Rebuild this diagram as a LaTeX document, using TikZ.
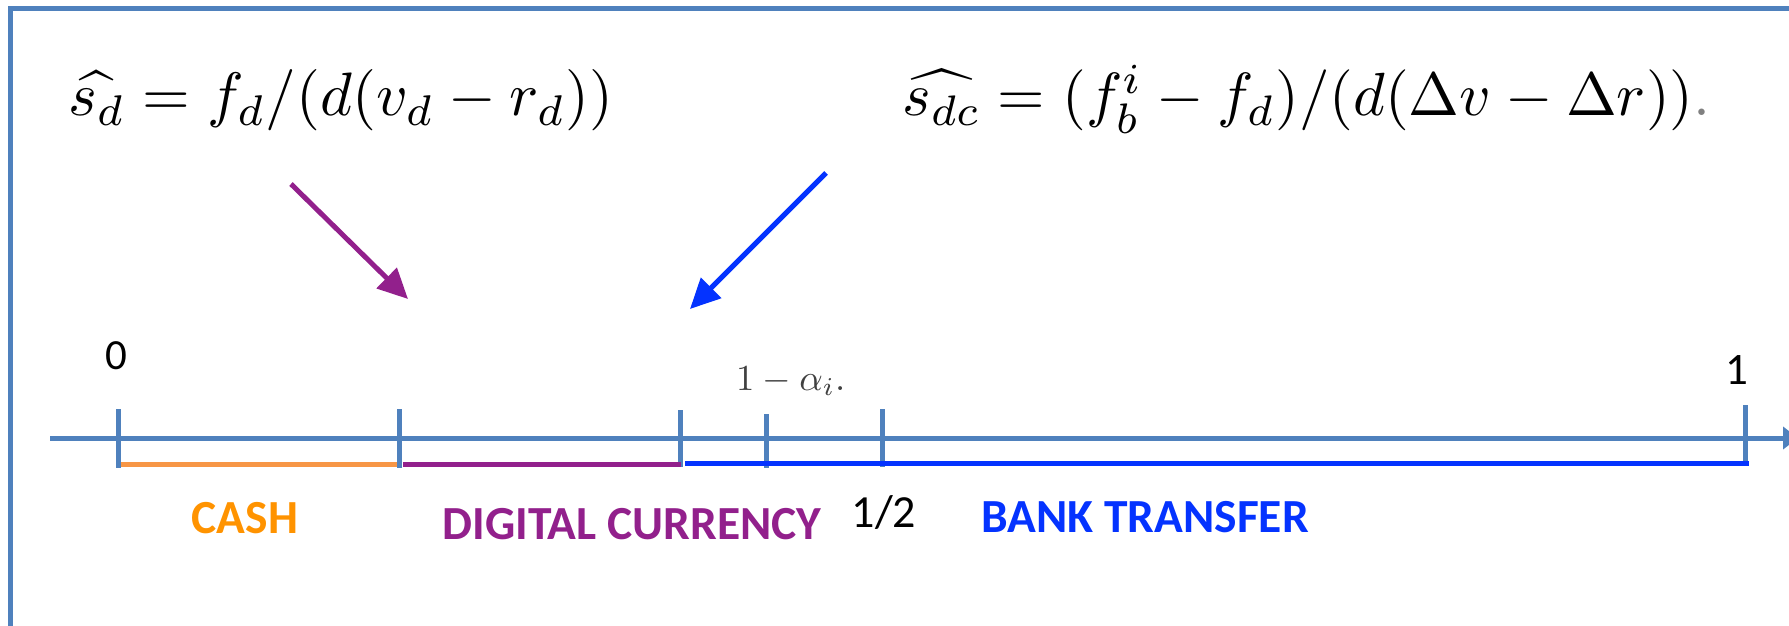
\documentclass[tikz,border=0pt]{standalone}
\usepackage{fontspec}
\newfontfamily\calibri{Carlito}
\usetikzlibrary{arrows.meta}
\definecolor{axisblue}{RGB}{79,129,189}
\definecolor{cashline}{RGB}{247,150,70}
\definecolor{cashtext}{RGB}{255,147,0}
\definecolor{dcpurple}{RGB}{146,32,140}
\definecolor{btblue}{RGB}{4,51,255}
\tikzset{
  frame/.style={draw=axisblue,line width=5pt},
  axisline/.style={draw=axisblue,line width=5pt,-{Triangle[length=15pt,width=22pt]}},
  tickmark/.style={draw=axisblue,line width=5pt},
  segline/.style={line width=5pt},
  pointer/.style={line width=5pt,-{Triangle[length=30pt,width=28pt]}},
  numlabel/.style={inner sep=0pt,anchor=base,font=\calibri\fontsize{43}{48}\selectfont},
  catlabel/.style={inner sep=0pt,anchor=base,font=\calibri\bfseries\fontsize{47.5}{52}\selectfont},
  formula/.style={inner sep=0pt,anchor=base west}
}
\begin{document}
\begin{tikzpicture}[x=1pt,y=-1pt]
\useasboundingbox (0,0) rectangle (1789,626);
\clip (0,0) rectangle (1789,626);
\fill[white] (0,0) rectangle (1789,626);
\draw[frame] (10,9) rectangle (1830,670);

% formulas
\node[formula] (f1) at (68,116) {\resizebox{545pt}{!}{$\widehat{s_d} = f_d/(d(v_d - r_d))$}};
\node[formula] (f2) at (902,116) {\resizebox{808pt}{!}{$\widehat{s_{dc}} = (f_b^i - f_d)/(d(\Delta v - \Delta r))\textcolor{black!50}{.}$}};

% pointer arrows
\coordinate (pa1) at (291,184);
\coordinate (pa2) at (408,299);
\coordinate (ba1) at (826,173);
\coordinate (ba2) at (690,309);
\draw[pointer,dcpurple] (pa1) -- (pa2);
\draw[pointer,btblue] (ba1) -- (ba2);

% axis
\coordinate (axL) at (50,438);
\coordinate (axR) at (1798,438);
\draw[axisline] (axL) -- (axR);

% ticks
\coordinate (t0a) at (118,409);  \coordinate (t0b) at (118,468);
\coordinate (t1a) at (399,409);  \coordinate (t1b) at (399,468);
\coordinate (t2a) at (680,410);  \coordinate (t2b) at (680,467);
\coordinate (t3a) at (766,414);  \coordinate (t3b) at (766,468);
\coordinate (t4a) at (882,409);  \coordinate (t4b) at (882,467);
\coordinate (t5a) at (1745,405); \coordinate (t5b) at (1745,461);
\foreach \t in {0,...,5} \draw[tickmark] (t\t a) -- (t\t b);

% segments
\coordinate (s0) at (121,464);
\coordinate (s1) at (397,464);
\coordinate (s2) at (403,464);
\coordinate (s3) at (681,464);
\coordinate (s4) at (685,463);
\coordinate (s5) at (1749,463);
\draw[segline,cashline] (s0) -- (s1);
\draw[segline,dcpurple] (s2) -- (s3);
\draw[segline,btblue] (s4) -- (s5);

% labels
\node[numlabel] (l0) at (116,369) {0};
\node[numlabel,font=\calibri\fontsize{45}{50}\selectfont] (l1) at (1737,384) {1};
\node[inner sep=0pt,anchor=base west,text=black!75] (lalpha) at (736,390) {\resizebox{109pt}{!}{$1 - \alpha_i.$}};
\node[numlabel,font=\calibri\fontsize{46}{50}\selectfont] (lhalf) at (884,527) {1/2};
\node[catlabel,text=cashtext] (cash) at (245,533) {CASH};
\node[catlabel,text=dcpurple] (dc) at (632,539) {DIGITAL CURRENCY};
\node[catlabel,text=btblue] (bt) at (1145,532) {BANK TRANSFER};
\end{tikzpicture}
\end{document}
